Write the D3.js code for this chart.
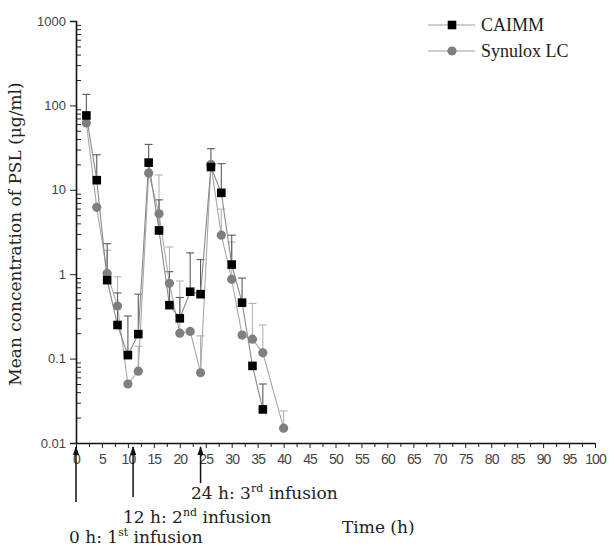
<!DOCTYPE html>
<html>
<head>
<meta charset="utf-8">
<script src="https://cdn.jsdelivr.net/npm/d3@7"></script>
<style>
  body { margin: 0; background: #fff; }
  .tick text { font-family: "Liberation Sans", Arial, sans-serif; }
</style>
</head>
<body>
<div id="vis"></div>
<script>
// time points (h)
const caimmTimes = [2, 4, 6, 8, 10, 12, 14, 16, 18, 20, 22, 24, 26, 28, 30, 32, 34, 36];
const synTimes = [2, 4, 6, 8, 10, 12, 14, 16, 18, 20, 22, 24, 26, 28, 30, 32, 34, 36, 40];

// mean concentrations (ug/ml)
const caimmMean = [76, 13, 0.85, 0.25, 0.11, 0.195, 21, 3.3, 0.43, 0.30, 0.62, 0.58, 18.6, 9.2, 1.3, 0.46, 0.082, 0.025];
const synMean = [62, 6.2, 1.02, 0.42, 0.05, 0.071, 15.8, 5.2, 0.78, 0.20, 0.21, 0.068, 20, 2.9, 0.87, 0.19, 0.17, 0.117, 0.015];

// upper end of the error bars (null = none visible)
const caimmUpper = [135, 26, 2.3, 0.60, 0.32, 0.58, 34.5, 7.6, 1.07, 0.53, 1.79, 1.49, 30.7, 20.4, 2.9, 0.90, null, 0.05];
const synUpper = [null, null, 1.92, 0.93, null, 0.14, null, 15, 2.1, 0.83, null, 0.186, null, 5.9, 2.4, null, 0.45, 0.25, 0.024];

const xTicks = d3.range(0, 101, 5);
const yTicks = [0.01, 0.1, 1, 10, 100, 1000];

// infusion annotations
const infusionTimes = [0, 11, 24];
const infusionLabels = [
  { pre: '0 h: 1', sup: 'st', post: ' infusion' },
  { pre: '12 h: 2', sup: 'nd', post: ' infusion' },
  { pre: '24 h: 3', sup: 'rd', post: ' infusion' }
];

const width = 609, height = 550;
const margin = { top: 21, right: 14, bottom: 107, left: 76 };

const svg = d3.select('#vis')
  .append('svg')
  .attr('width', width)
  .attr('height', height);

const x = d3.scaleLinear().domain([0, 100]).range([margin.left, width - margin.right]);
const y = d3.scaleLog().domain([0.01, 1000]).range([height - margin.bottom, margin.top]);

const serif = '"DejaVu Serif", serif';

// ---- axes
// y minor ticks (inside)
const minor = [];
yTicks.slice(0, -1).forEach(t => { for (let k = 2; k <= 9; k++) minor.push(t * k); });
svg.append('g')
  .attr('transform', `translate(${margin.left},0)`)
  .call(d3.axisRight(y).tickValues(minor).tickSize(5).tickFormat(''))
  .call(g => g.select('.domain').remove())
  .selectAll('line').attr('stroke', '#222');

svg.append('g')
  .attr('transform', `translate(${margin.left},0)`)
  .call(d3.axisLeft(y).tickValues(yTicks).tickSize(6).tickPadding(4)
    .tickFormat(d => d3.format('~g')(d)))
  .call(g => g.select('.domain').attr('stroke', '#111').attr('stroke-width', 1.6))
  .call(g => g.selectAll('line').attr('stroke', '#222'))
  .call(g => g.selectAll('text').attr('font-size', 13).attr('fill', '#444'));

// x minor ticks
svg.append('g')
  .attr('transform', `translate(0,${y(0.01)})`)
  .call(d3.axisBottom(x).tickValues(d3.range(2.5, 100, 5)).tickSize(4).tickFormat(''))
  .call(g => g.select('.domain').remove())
  .selectAll('line').attr('stroke', '#222');

svg.append('g')
  .attr('transform', `translate(0,${y(0.01)})`)
  .call(d3.axisBottom(x).tickValues(xTicks).tickSize(5).tickPadding(6).tickSizeOuter(0))
  .call(g => g.select('.domain').attr('stroke', '#111').attr('stroke-width', 1.6))
  .call(g => g.selectAll('line').attr('stroke', '#222'))
  .call(g => g.selectAll('text').attr('font-size', 14).attr('fill', '#444').attr('letter-spacing', -0.9));

// axis titles
svg.append('text')
  .attr('transform', `translate(21,${(y(1000) + y(0.01)) / 2 + 2}) rotate(-90)`)
  .attr('text-anchor', 'middle')
  .attr('font-family', serif)
  .attr('font-size', 17)
  .attr('fill', '#222')
  .text('Mean concentration of PSL (μg/ml)');

svg.append('text')
  .attr('x', 342)
  .attr('y', 533)
  .attr('font-family', serif)
  .attr('font-size', 17)
  .attr('fill', '#222')
  .text('Time (h)');

// ---- infusion arrows
svg.append('defs').append('marker')
  .attr('id', 'arrow')
  .attr('viewBox', '0 0 10 10')
  .attr('refX', 9).attr('refY', 5)
  .attr('markerWidth', 6).attr('markerHeight', 6)
  .attr('orient', 'auto')
  .append('path')
  .attr('d', 'M0,1.5L10,5L0,8.5z')
  .attr('fill', '#111');

const arrowBottoms = [502, 497, 483];
svg.append('g').selectAll('line')
  .data(infusionTimes)
  .join('line')
  .attr('x1', d => x(d)).attr('x2', d => x(d))
  .attr('y1', (d, i) => arrowBottoms[i])
  .attr('y2', y(0.01) + 4)
  .attr('stroke', '#111')
  .attr('stroke-width', 1.5)
  .attr('marker-end', 'url(#arrow)');

const labelPos = [[69, 543], [123, 523], [191, 499]];
infusionLabels.forEach((l, i) => {
  const t = svg.append('text')
    .attr('x', labelPos[i][0])
    .attr('y', labelPos[i][1])
    .attr('font-family', serif)
    .attr('font-size', 17)
    .attr('fill', '#222');
  t.append('tspan').text(l.pre);
  t.append('tspan').attr('dy', -7).attr('font-size', 11).text(l.sup);
  t.append('tspan').attr('dy', 7).text(l.post);
});

// ---- data
const caimm = caimmTimes.map((t, i) => ({ t, v: caimmMean[i], up: caimmUpper[i] }));
const syn = synTimes.map((t, i) => ({ t, v: synMean[i], up: synUpper[i] }));

const line = d3.line().x(d => x(d.t)).y(d => y(d.v));

function errorBars(data, color) {
  const g = svg.append('g').attr('stroke', color).attr('stroke-width', 1.1);
  const withErr = data.filter(d => d.up != null);
  g.selectAll('line.v').data(withErr).join('line').attr('class', 'v')
    .attr('x1', d => x(d.t)).attr('x2', d => x(d.t))
    .attr('y1', d => y(d.v)).attr('y2', d => y(d.up));
  g.selectAll('line.c').data(withErr).join('line').attr('class', 'c')
    .attr('x1', d => x(d.t) - 4).attr('x2', d => x(d.t) + 4)
    .attr('y1', d => y(d.up)).attr('y2', d => y(d.up));
}

errorBars(syn, '#b4b4b4');
errorBars(caimm, '#5a5a5a');

svg.append('path').datum(syn)
  .attr('fill', 'none').attr('stroke', '#a8a8a8').attr('stroke-width', 1.1)
  .attr('d', line);
svg.append('path').datum(caimm)
  .attr('fill', 'none').attr('stroke', '#8a8a8a').attr('stroke-width', 1.1)
  .attr('d', line);

svg.append('g').selectAll('circle')
  .data(syn)
  .join('circle')
  .attr('cx', d => x(d.t))
  .attr('cy', d => y(d.v))
  .attr('r', 4.6)
  .attr('fill', '#7f7f7f');

svg.append('g').selectAll('rect')
  .data(caimm)
  .join('rect')
  .attr('x', d => x(d.t) - 4.3)
  .attr('y', d => y(d.v) - 4.3)
  .attr('width', 8.6)
  .attr('height', 8.6)
  .attr('fill', '#000');

// ---- legend
const legend = svg.append('g').attr('transform', 'translate(428,0)');
const legendItems = [
  { name: 'CAIMM', color: '#000', shape: 'square', yy: 25 },
  { name: 'Synulox LC', color: '#7f7f7f', shape: 'circle', yy: 51 }
];
legendItems.forEach(it => {
  legend.append('line')
    .attr('x1', 0).attr('x2', 47)
    .attr('y1', it.yy).attr('y2', it.yy)
    .attr('stroke', '#999').attr('stroke-width', 1.1);
  if (it.shape === 'square') {
    legend.append('rect')
      .attr('x', 24 - 4.3).attr('y', it.yy - 4.3)
      .attr('width', 8.6).attr('height', 8.6)
      .attr('fill', it.color);
  } else {
    legend.append('circle')
      .attr('cx', 24).attr('cy', it.yy).attr('r', 4.6)
      .attr('fill', it.color);
  }
  legend.append('text')
    .attr('x', 53).attr('y', it.yy + 6)
    .attr('font-family', '"Liberation Serif", serif')
    .attr('font-size', 18)
    .attr('fill', '#222')
    .text(it.name);
});
</script>
</body>
</html>
